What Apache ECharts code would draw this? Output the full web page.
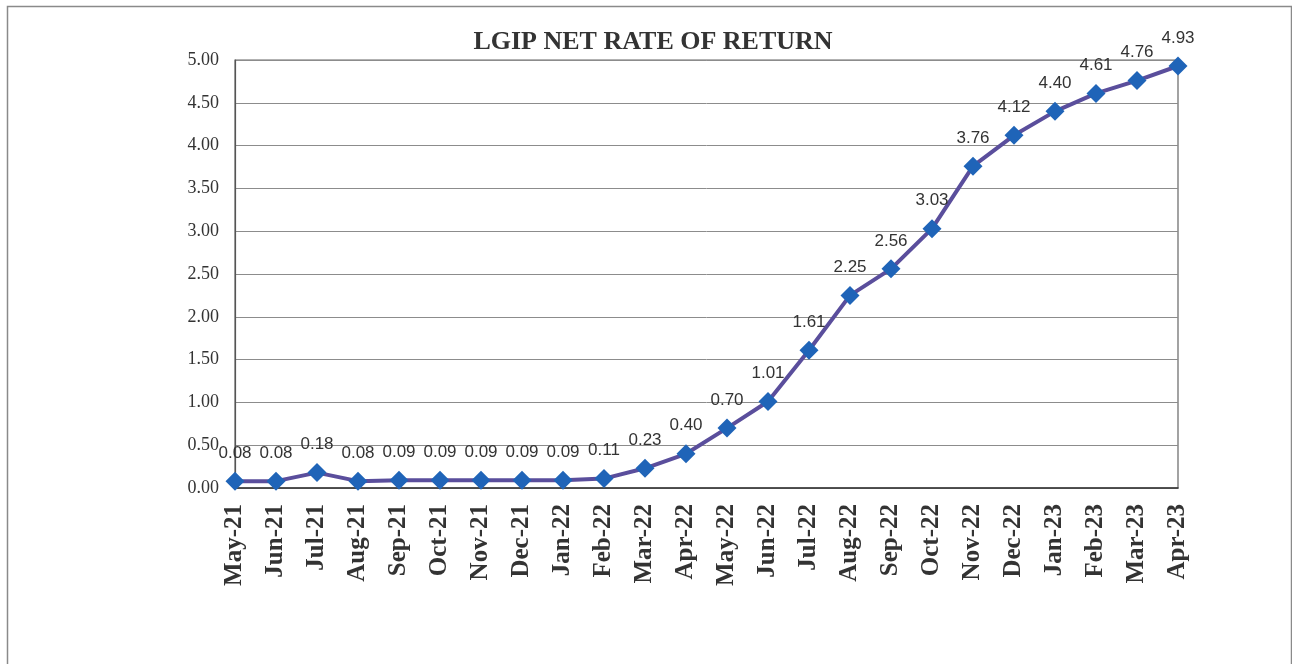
<!DOCTYPE html>
<html><head><meta charset="utf-8">
<script src="https://cdn.jsdelivr.net/npm/echarts@6/dist/echarts.min.js"></script>
<style>html,body{margin:0;padding:0;background:#fff;}#c{width:1292px;height:664px;}</style>
</head><body><div id="c"></div>
<script>
const months = ['May-21','Jun-21','Jul-21','Aug-21','Sep-21','Oct-21','Nov-21','Dec-21','Jan-22','Feb-22','Mar-22','Apr-22','May-22','Jun-22','Jul-22','Aug-22','Sep-22','Oct-22','Nov-22','Dec-22','Jan-23','Feb-23','Mar-23','Apr-23'];
const rates = [0.08,0.08,0.18,0.08,0.09,0.09,0.09,0.09,0.09,0.11,0.23,0.40,0.70,1.01,1.61,2.25,2.56,3.03,3.76,4.12,4.40,4.61,4.76,4.93];
const chartTitle = 'LGIP NET RATE OF RETURN';

const chart = echarts.init(document.getElementById('c'), null, {renderer:'canvas'});
chart.setOption({
  backgroundColor:'#ffffff',
  animation:false,
  graphic:[{type:'rect',left:5,top:4,shape:{width:1284,height:700},style:{fill:'none',stroke:'#8a8a8a',lineWidth:1.5}}],
  title:{text:chartTitle,left:648,top:24,textAlign:'center',
    textStyle:{fontFamily:'Liberation Serif',fontWeight:'bold',fontSize:26,color:'#333'}},
  grid:{left:235,right:114,top:60,bottom:176,show:true,borderColor:'#666',borderWidth:1.2},
  xAxis:{type:'category',data:months,boundaryGap:false,
    axisLine:{lineStyle:{color:'#333',width:1.5}},axisTick:{show:false},
    axisLabel:{rotate:90,margin:16,fontFamily:'Liberation Serif',fontWeight:'bold',fontSize:25,color:'#333',interval:0},
    splitLine:{show:false}},
  yAxis:{type:'value',min:0,max:5,interval:0.5,
    axisLine:{show:true,lineStyle:{color:'#555',width:1.2}},axisTick:{show:false},
    axisLabel:{margin:16,fontFamily:'Liberation Serif',fontSize:18,color:'#333',formatter:v=>v.toFixed(2)},
    splitLine:{lineStyle:{color:'#8c8c8c',width:1}}},
  series:[{type:'line',data:rates,
    lineStyle:{color:'#5a4e9c',width:4},
    symbol:'diamond',symbolSize:19,
    itemStyle:{color:'#1f64b8'},
    label:{show:true,position:'top',distance:10,formatter:p=>p.value.toFixed(2),
      fontFamily:'Liberation Sans',fontSize:17,color:'#333'}}]
});
</script></body></html>
